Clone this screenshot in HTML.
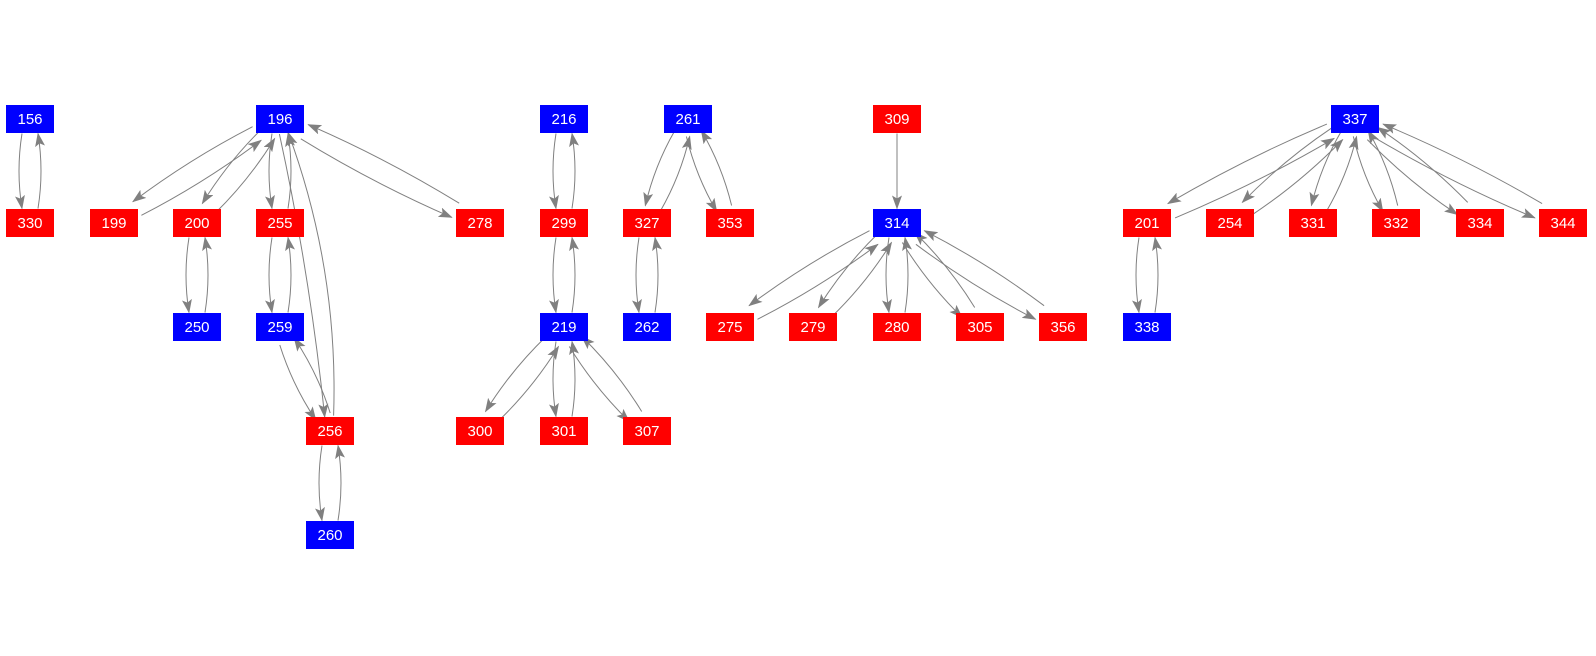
<!DOCTYPE html>
<html><head><meta charset="utf-8"><style>
html,body{margin:0;padding:0;background:#fff;}
svg{display:block;}
text{font-family:"Liberation Sans",Arial,sans-serif;font-size:15px;fill:#fff;text-anchor:middle;}
</style></head><body>
<svg id="s" width="1596" height="656" viewBox="0 0 1596 656" xmlns="http://www.w3.org/2000/svg">
<defs><marker id="a" viewBox="0 0 14 10" refX="13" refY="5" markerWidth="14" markerHeight="10" markerUnits="userSpaceOnUse" orient="auto"><path d="M0,0 L14,5 L0,10 L3,5 z" fill="#808080"/></marker></defs>
<g id="e" fill="none" stroke="#808080" stroke-width="1"></g>
<g id="n">
<rect x="6" y="105" width="48" height="28" fill="#0000ff"/><text x="30" y="124">156</text>
<rect x="6" y="209" width="48" height="28" fill="#ff0000"/><text x="30" y="228">330</text>
<rect x="256" y="105" width="48" height="28" fill="#0000ff"/><text x="280" y="124">196</text>
<rect x="90" y="209" width="48" height="28" fill="#ff0000"/><text x="114" y="228">199</text>
<rect x="173" y="209" width="48" height="28" fill="#ff0000"/><text x="197" y="228">200</text>
<rect x="256" y="209" width="48" height="28" fill="#ff0000"/><text x="280" y="228">255</text>
<rect x="456" y="209" width="48" height="28" fill="#ff0000"/><text x="480" y="228">278</text>
<rect x="173" y="313" width="48" height="28" fill="#0000ff"/><text x="197" y="332">250</text>
<rect x="256" y="313" width="48" height="28" fill="#0000ff"/><text x="280" y="332">259</text>
<rect x="306" y="417" width="48" height="28" fill="#ff0000"/><text x="330" y="436">256</text>
<rect x="306" y="521" width="48" height="28" fill="#0000ff"/><text x="330" y="540">260</text>
<rect x="540" y="105" width="48" height="28" fill="#0000ff"/><text x="564" y="124">216</text>
<rect x="540" y="209" width="48" height="28" fill="#ff0000"/><text x="564" y="228">299</text>
<rect x="540" y="313" width="48" height="28" fill="#0000ff"/><text x="564" y="332">219</text>
<rect x="456" y="417" width="48" height="28" fill="#ff0000"/><text x="480" y="436">300</text>
<rect x="540" y="417" width="48" height="28" fill="#ff0000"/><text x="564" y="436">301</text>
<rect x="623" y="417" width="48" height="28" fill="#ff0000"/><text x="647" y="436">307</text>
<rect x="664" y="105" width="48" height="28" fill="#0000ff"/><text x="688" y="124">261</text>
<rect x="623" y="209" width="48" height="28" fill="#ff0000"/><text x="647" y="228">327</text>
<rect x="706" y="209" width="48" height="28" fill="#ff0000"/><text x="730" y="228">353</text>
<rect x="623" y="313" width="48" height="28" fill="#0000ff"/><text x="647" y="332">262</text>
<rect x="873" y="105" width="48" height="28" fill="#ff0000"/><text x="897" y="124">309</text>
<rect x="873" y="209" width="48" height="28" fill="#0000ff"/><text x="897" y="228">314</text>
<rect x="706" y="313" width="48" height="28" fill="#ff0000"/><text x="730" y="332">275</text>
<rect x="789" y="313" width="48" height="28" fill="#ff0000"/><text x="813" y="332">279</text>
<rect x="873" y="313" width="48" height="28" fill="#ff0000"/><text x="897" y="332">280</text>
<rect x="956" y="313" width="48" height="28" fill="#ff0000"/><text x="980" y="332">305</text>
<rect x="1039" y="313" width="48" height="28" fill="#ff0000"/><text x="1063" y="332">356</text>
<rect x="1331" y="105" width="48" height="28" fill="#0000ff"/><text x="1355" y="124">337</text>
<rect x="1123" y="209" width="48" height="28" fill="#ff0000"/><text x="1147" y="228">201</text>
<rect x="1206" y="209" width="48" height="28" fill="#ff0000"/><text x="1230" y="228">254</text>
<rect x="1289" y="209" width="48" height="28" fill="#ff0000"/><text x="1313" y="228">331</text>
<rect x="1372" y="209" width="48" height="28" fill="#ff0000"/><text x="1396" y="228">332</text>
<rect x="1456" y="209" width="48" height="28" fill="#ff0000"/><text x="1480" y="228">334</text>
<rect x="1539" y="209" width="48" height="28" fill="#ff0000"/><text x="1563" y="228">344</text>
<rect x="1123" y="313" width="48" height="28" fill="#0000ff"/><text x="1147" y="332">338</text>
</g>
</svg>
<script>
var P={156:[30,119],330:[30,223],196:[280,119],199:[114,223],200:[197,223],255:[280,223],278:[480,223],250:[197,327],259:[280,327],256:[330,431],260:[330,535],
216:[564,119],299:[564,223],219:[564,327],300:[480,431],301:[564,431],307:[647,431],261:[688,119],327:[647,223],353:[730,223],262:[647,327],
309:[897,119],314:[897,223],275:[730,327],279:[813,327],280:[897,327],305:[980,327],356:[1063,327],
337:[1355,119],201:[1147,223],254:[1230,223],331:[1313,223],332:[1396,223],334:[1480,223],344:[1563,223],338:[1147,327]};
var B=[[156,330],[196,199],[196,200],[196,255],[196,278],[200,250],[255,259],[259,256],[256,260],[216,299],[299,219],[219,300],[219,301],[219,307],[261,327],[261,353],[327,262],[314,275],[314,279],[314,280],[314,305],[314,356],[337,201],[337,254],[337,331],[337,332],[337,334],[337,344],[201,338]];
var g=document.getElementById('e'),h='';
function edge(u,v,off,bow){var a=P[u],b=P[v],dx=b[0]-a[0],dy=b[1]-a[1],L=Math.hypot(dx,dy),ux=dx/L,uy=dy/L,px=-uy,py=ux;
var sx=a[0]+px*off,sy=a[1]+py*off,ex=b[0]+px*off,ey=b[1]+py*off;
var t=Math.min(ux?24.5/Math.abs(ux):1e9,uy?14.5/Math.abs(uy):1e9);
sx+=ux*t;sy+=uy*t;ex-=ux*t;ey-=uy*t;
var mx=(sx+ex)/2+px*bow,my=(sy+ey)/2+py*bow;
h+='<path d="M'+sx.toFixed(1)+','+sy.toFixed(1)+' Q'+mx.toFixed(1)+','+my.toFixed(1)+' '+ex.toFixed(1)+','+ey.toFixed(1)+'" marker-end="url(#a)"/>';}
B.forEach(function(e){edge(e[0],e[1],8,6);edge(e[1],e[0],8,6);});
edge(196,256,3,-8);edge(256,196,6,28);
edge(309,314,0,0);
g.innerHTML=h;
</script>
</body></html>
